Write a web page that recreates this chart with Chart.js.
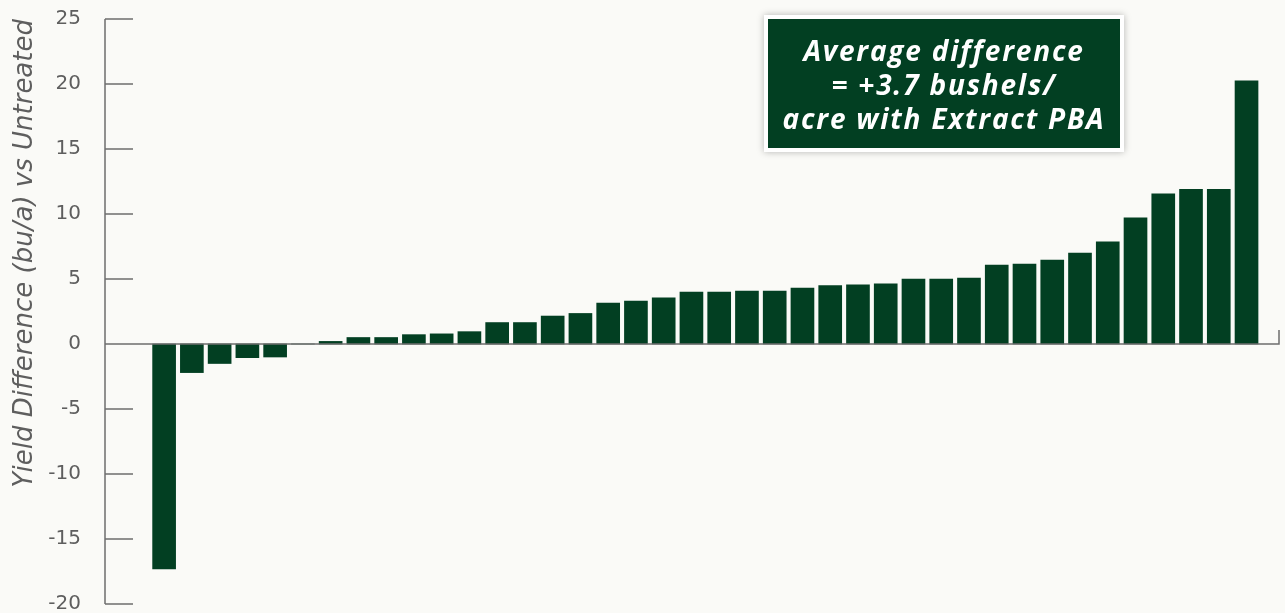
<!DOCTYPE html>
<html>
<head>
<meta charset="utf-8">
<script src="https://cdn.jsdelivr.net/npm/chart.js@4.4.0/dist/chart.umd.min.js"></script>
<style>
    html, body { margin: 0; padding: 0; background: #fafaf7; }
    #wrap { position: relative; width: 1285px; height: 613px; }
    #note {
        position: absolute; left: 764px; top: 15px; width: 352px; height: 129px;
        background: #023f22; border: 4px solid #ffffff;
        box-shadow: 0 0 7px rgba(0, 0, 0, 0.28);
        color: #ffffff; font-family: "Open Sans", sans-serif; font-weight: 700; font-style: italic;
        font-size: 28px; letter-spacing: 1.8px; line-height: 34px; text-align: center;
        display: flex; align-items: center; justify-content: center;
    }
</style>
</head>
<body>
<div id="wrap">
    <canvas id="yieldChart" width="1285" height="613"></canvas>
    <div id="note">Average difference<br>= +3.7 bushels/<br>acre with Extract PBA</div>
</div>
<script>
// Trials, sorted by yield response
const trials = [1, 2, 3, 4, 5, 6, 7, 8, 9, 10, 11, 12, 13, 14, 15, 16, 17, 18, 19, 20,
    21, 22, 23, 24, 25, 26, 27, 28, 29, 30, 31, 32, 33, 34, 35, 36, 37, 38, 39, 40];
const yieldDiff = [-17.3, -2.2, -1.5, -1.05, -1.0, 0, 0.2, 0.5, 0.5, 0.72, 0.78, 0.95, 1.65, 1.65,
    2.15, 2.35, 3.15, 3.3, 3.55, 4.0, 4.0, 4.08, 4.08, 4.3, 4.5, 4.55, 4.62, 5.0, 5.0, 5.08,
    6.08, 6.15, 6.45, 7.0, 7.85, 9.7, 11.55, 11.9, 11.9, 20.25];
const yTicks = [-20, -15, -10, -5, 0, 5, 10, 15, 20, 25];

const barColor = '#023f22';
const axisColor = '#6e6e6e';

// Axis line, inward tick marks and zero line
const axisLines = {
    id: 'axisLines',
    afterDatasetsDraw(chart) {
        const { ctx, chartArea, scales: { y } } = chart;
        const left = chartArea.left;
        const y0 = y.getPixelForValue(0);
        ctx.save();
        ctx.strokeStyle = axisColor;
        ctx.lineWidth = 1.5;
        ctx.beginPath();
        ctx.moveTo(left, y.getPixelForValue(yTicks[yTicks.length - 1]));
        ctx.lineTo(left, y.getPixelForValue(yTicks[0]));
        yTicks.forEach(v => {
            const py = y.getPixelForValue(v);
            ctx.moveTo(left, py);
            ctx.lineTo(left + 28, py);
        });
        ctx.moveTo(left, y0);
        ctx.lineTo(chartArea.right, y0);
        ctx.lineTo(chartArea.right, y0 - 14);
        ctx.stroke();
        ctx.restore();
    }
};

const ctx = document.getElementById('yieldChart').getContext('2d');
const yieldChart = new Chart(ctx, {
    type: 'bar',
    data: {
        datasets: [{
            data: trials.map((t, i) => ({ x: t, y: yieldDiff[i] })),
            backgroundColor: barColor,
            borderWidth: 0,
            barThickness: 23
        }]
    },
    options: {
        responsive: false,
        animation: false,
        layout: { padding: { top: 19, right: 6, bottom: 9, left: 0 } },
        plugins: {
            legend: { display: false },
            tooltip: { enabled: false }
        },
        scales: {
            x: {
                type: 'linear',
                display: false,
                min: -1.13,
                max: 41.17,
                offset: false
            },
            y: {
                min: -20,
                max: 25,
                afterFit: s => { s.width = 105; s.paddingTop = 0; s.paddingBottom = 0; },
                afterBuildTicks: s => { s.ticks = yTicks.map(v => ({ value: v })); },
                grid: { display: false },
                border: { display: false },
                ticks: {
                    color: '#5e5e5e',
                    padding: 16,
                    font: { family: 'DejaVu Sans', size: 20, weight: 'normal', lineHeight: 1 }
                },
                title: {
                    display: true,
                    text: 'Yield Difference (bu/a) vs Untreated',
                    align: 'end',
                    color: '#5e5e5e',
                    padding: { top: 10, bottom: 0 },
                    font: { family: 'DejaVu Sans', size: 26, style: 'italic', weight: 'normal', lineHeight: 1.2 }
                }
            }
        }
    },
    plugins: [axisLines]
});
</script>
</body>
</html>
